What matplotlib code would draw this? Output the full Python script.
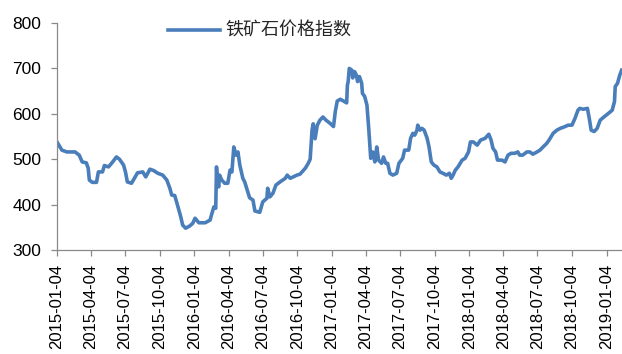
import numpy as np
import pandas as pd
import matplotlib
matplotlib.use('Agg')
import matplotlib.pyplot as plt
import matplotlib.dates as mdates

plt.rcParams['font.family'] = ['Liberation Sans', 'Noto Sans CJK SC', 'DejaVu Sans']

# ---- 数据：铁矿石价格指数 ----
dates = [
    '2015-01-04', '2015-01-17', '2015-01-30', '2015-02-21', '2015-03-04', '2015-03-12',
    '2015-03-23', '2015-03-28', '2015-03-31', '2015-04-08', '2015-04-19', '2015-04-24',
    '2015-05-05', '2015-05-10', '2015-05-21', '2015-06-01', '2015-06-11', '2015-06-19',
    '2015-06-30', '2015-07-05', '2015-07-10', '2015-07-21', '2015-07-26', '2015-08-06',
    '2015-08-20', '2015-08-28', '2015-09-08', '2015-09-18', '2015-09-29', '2015-10-12',
    '2015-10-23', '2015-10-31', '2015-11-05', '2015-11-13', '2015-11-19', '2015-11-24',
    '2015-11-29', '2015-12-04', '2015-12-12', '2015-12-23', '2015-12-31', '2016-01-06',
    '2016-01-16', '2016-02-02', '2016-02-15', '2016-02-20', '2016-02-25', '2016-03-01',
    '2016-03-03', '2016-03-06', '2016-03-09', '2016-03-11', '2016-03-17', '2016-03-25',
    '2016-04-02', '2016-04-08', '2016-04-13', '2016-04-18', '2016-04-24', '2016-04-29',
    '2016-05-04', '2016-05-12', '2016-05-17', '2016-05-25', '2016-05-30', '2016-06-08',
    '2016-06-13', '2016-06-26', '2016-07-04', '2016-07-15', '2016-07-17', '2016-07-23',
    '2016-07-31', '2016-08-08', '2016-08-19', '2016-09-02', '2016-09-07', '2016-09-15',
    '2016-09-23', '2016-10-03', '2016-10-11', '2016-10-25', '2016-11-02', '2016-11-07',
    '2016-11-12', '2016-11-15', '2016-11-20', '2016-11-26', '2016-12-03', '2016-12-11',
    '2016-12-19', '2016-12-30', '2017-01-08', '2017-01-13', '2017-01-18', '2017-01-26',
    '2017-02-04', '2017-02-12', '2017-02-14', '2017-02-16', '2017-02-19', '2017-02-26',
    '2017-02-28', '2017-03-05', '2017-03-10', '2017-03-13', '2017-03-18', '2017-03-24',
    '2017-03-26', '2017-04-01', '2017-04-07', '2017-04-12', '2017-04-17', '2017-04-22',
    '2017-04-28', '2017-05-03', '2017-05-08', '2017-05-16', '2017-05-21', '2017-05-27',
    '2017-06-01', '2017-06-07', '2017-06-15', '2017-06-25', '2017-07-01', '2017-07-11',
    '2017-07-16', '2017-07-27', '2017-08-01', '2017-08-07', '2017-08-12', '2017-08-18',
    '2017-08-20', '2017-08-26', '2017-08-31', '2017-09-06', '2017-09-14', '2017-09-19',
    '2017-09-25', '2017-10-02', '2017-10-10', '2017-10-18', '2017-10-26', '2017-11-04',
    '2017-11-12', '2017-11-17', '2017-11-22', '2017-11-28', '2017-12-05', '2017-12-16',
    '2017-12-24', '2018-01-02', '2018-01-07', '2018-01-15', '2018-01-25', '2018-02-03',
    '2018-02-15', '2018-02-25', '2018-03-03', '2018-03-08', '2018-03-15', '2018-03-20',
    '2018-04-01', '2018-04-09', '2018-04-17', '2018-04-25', '2018-05-05', '2018-05-13',
    '2018-05-18', '2018-05-26', '2018-06-06', '2018-06-14', '2018-06-22', '2018-07-03',
    '2018-07-11', '2018-07-18', '2018-07-29', '2018-08-04', '2018-08-15', '2018-08-25',
    '2018-09-03', '2018-09-13', '2018-09-24', '2018-10-04', '2018-10-12', '2018-10-20',
    '2018-10-25', '2018-11-03', '2018-11-14', '2018-11-19', '2018-11-24', '2018-12-02',
    '2018-12-10', '2018-12-18', '2018-12-28', '2019-01-09', '2019-01-19', '2019-01-25',
    '2019-01-27', '2019-02-02', '2019-02-08', '2019-02-13',
]
values = [
    538, 520, 516, 516, 509, 494,
    492, 480, 454, 449, 449, 472,
    472, 486, 483, 494, 505, 500,
    487, 472, 450, 447, 454, 470,
    472, 461, 478, 475, 469, 465,
    454, 436, 421, 420, 403, 388,
    373, 355, 348, 353, 359, 370,
    360, 360, 366, 381, 395, 392,
    483, 447, 439, 465, 454, 447,
    447, 476, 472, 527, 509, 516,
    487, 458, 450, 428, 415, 410,
    386, 383, 406, 414, 436, 417,
    425, 443, 450, 458, 465, 458,
    461, 465, 467, 480, 491, 500,
    564, 578, 545, 575, 586, 593,
    586, 579, 572, 606, 628, 632,
    628, 624, 663, 671, 700, 696,
    679, 693, 685, 671, 682, 667,
    645, 638, 619, 564, 502, 516,
    494, 527, 498, 491, 505, 491,
    491, 469, 465, 469, 491, 502,
    520, 520, 546, 557, 553, 564,
    575, 564, 568, 564, 546, 527,
    494, 487, 483, 472, 469, 465,
    469, 458, 465, 476, 483, 498,
    502, 516, 538, 538, 531, 542,
    546, 555, 542, 524, 516, 498,
    498, 494, 509, 513, 513, 516,
    509, 509, 516, 516, 511, 516,
    520, 526, 535, 542, 557, 564,
    568, 571, 575, 575, 590, 608,
    612, 610, 612, 590, 564, 561,
    568, 586, 593, 601, 608, 627,
    660, 667, 685, 696,
]
series_name = '铁矿石价格指数'
tick_labels = [
    '2015-01-04', '2015-04-04', '2015-07-04', '2015-10-04',
    '2016-01-04', '2016-04-04', '2016-07-04', '2016-10-04',
    '2017-01-04', '2017-04-04', '2017-07-04', '2017-10-04',
    '2018-01-04', '2018-04-04', '2018-07-04', '2018-10-04',
    '2019-01-04',
]
y_ticks = [300, 400, 500, 600, 700, 800]

d = pd.to_datetime(dates)

fig = plt.figure(figsize=(6.22, 3.54), dpi=100)
ax = fig.add_axes([57 / 622, 1 - 250 / 354, 1 - 57 / 622, (250 - 23) / 354])

ax.plot(d, values, color='#4a7ebb', lw=2.6, label=series_name, solid_joinstyle='round')

ax.set_ylim(300, 800)
ax.set_yticks(y_ticks)
ax.set_xlim(pd.Timestamp('2015-01-04'), pd.Timestamp('2019-02-14'))
ax.set_xticks(pd.to_datetime(tick_labels))
ax.xaxis.set_major_formatter(mdates.DateFormatter('%Y-%m-%d'))

for s in ['top', 'right']:
    ax.spines[s].set_visible(False)
for s in ['left', 'bottom']:
    ax.spines[s].set_color('#898989')
    ax.spines[s].set_linewidth(0.9)

ax.tick_params(axis='y', length=4.5, width=0.9, color='#898989', labelsize=12.5, pad=7)
ax.tick_params(axis='x', length=4, width=0.9, color='#898989', labelsize=12, pad=6,
               labelrotation=90)

fig.legend(loc='center left', bbox_to_anchor=(168 / 622, 1 - 31 / 354), frameon=False,
           borderpad=0, borderaxespad=0, handlelength=2.9, handletextpad=0.3,
           prop={'family': ['Noto Sans CJK SC'], 'size': 13}, labelcolor='#262626')

fig.savefig('out.png', dpi=100)
